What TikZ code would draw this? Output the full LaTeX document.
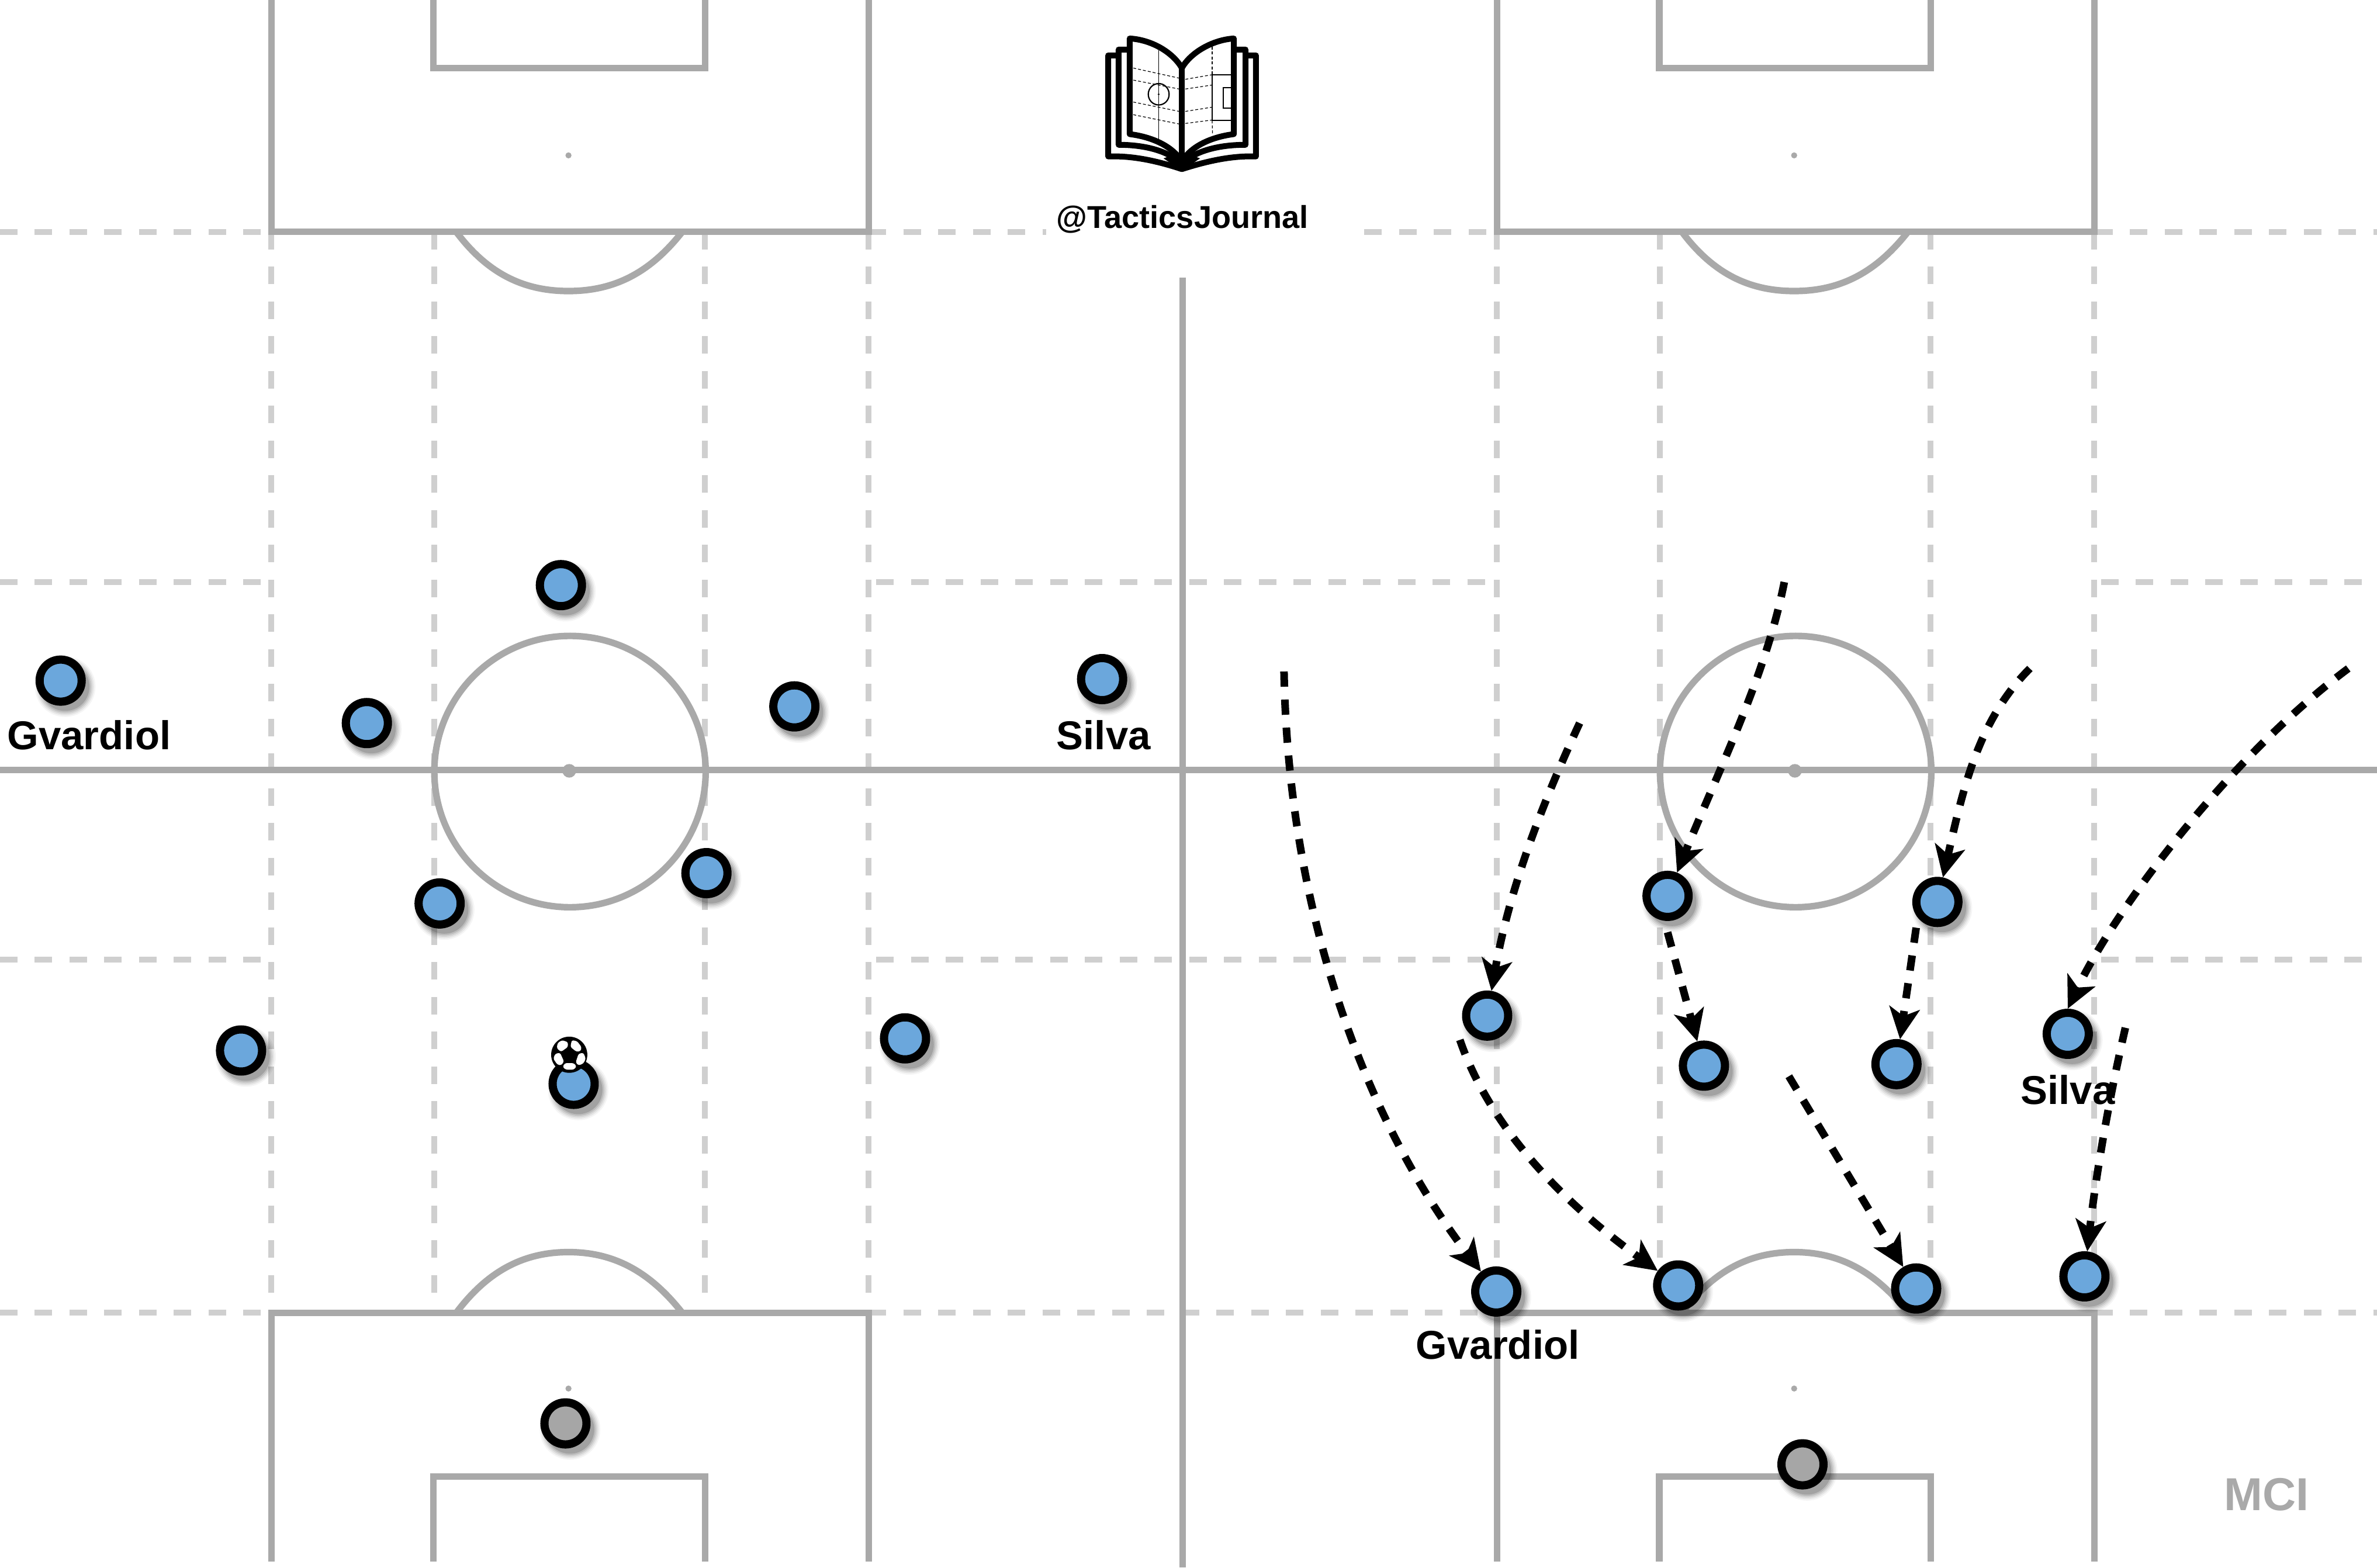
\documentclass[tikz,border=0pt]{standalone}
\usepackage{fontspec}
\setmainfont{Liberation Sans}
\usetikzlibrary{arrows.meta}
\definecolor{fieldgrey}{HTML}{A9A9A9}
\definecolor{dashgrey}{HTML}{CFCFCF}
\definecolor{playerblue}{HTML}{6BA7DC}
\definecolor{keepergrey}{HTML}{A6A6A6}
\tikzset{
  x=0.02594cm,y=-0.02594cm,
  solidline/.style={draw=fieldgrey,line width=1.12mm},
  dashline/.style={draw=dashgrey,line width=1mm,dash pattern=on 3mm off 2.95mm},
  spotdot/.style={fill=fieldgrey,draw=none},
  playerdisc/.style={circle,draw=black,line width=1.4mm,minimum size=7.2mm,inner sep=0pt,fill=playerblue},
  keeperdisc/.style={playerdisc,fill=keepergrey},
  namelabel/.style={font=\bfseries\fontsize{19.6}{22}\selectfont,text=black,inner sep=0pt,anchor=center},
  runarrow/.style={draw=black,line width=1.3mm,dash pattern=on 2.6mm off 2.2mm,-{Stealth[length=5.4mm,width=5.2mm,inset=1.4mm]}},
  bookline/.style={draw=black,line width=1mm,line join=round,line cap=round,fill=none},
  bookthin/.style={draw=black,line width=0.17mm,fill=none},
  bookdash/.style={draw=black,line width=0.12mm,dash pattern=on 0.5mm off 0.35mm},
}
\newcommand{\playershadow}[2]{%
  \foreach \r/\o in {20/0.04,19/0.06,18/0.08,17/0.10,16/0.14}{\fill[black,opacity=\o] (#1+3,#2+4) circle[radius=\r];}%
}
\newcommand{\player}[3]{\playershadow{#2}{#3}\node[playerdisc] (#1) at (#2,#3) {};}
\newcommand{\keeper}[3]{\playershadow{#2}{#3}\node[keeperdisc] (#1) at (#2,#3) {};}
\newcommand{\halfpitch}[1]{%
  \begin{scope}[xshift=#1*0.02594cm]
    \draw[dashline] (179,153) -- (179,866);
    \draw[dashline] (286.5,153) -- (286.5,866);
    \draw[dashline] (465,153) -- (465,866);
    \draw[dashline] (573,153) -- (573,866);
    \draw[solidline] (179,0) -- (179,153) -- (573,153) -- (573,0);
    \draw[solidline] (286,0) -- (286,45) -- (465,45) -- (465,0);
    \draw[solidline] (301,153) .. controls (322,181) and (346,192) .. (375,192) .. controls (404,192) and (428,181) .. (450,153);
    \fill[spotdot] (375,102.5) circle[radius=2];
    \draw[solidline] (179,1030) -- (179,866) -- (573,866) -- (573,1030);
    \draw[solidline] (286,1030) -- (286,974) -- (465,974) -- (465,1030);
    \draw[solidline] (301,866) .. controls (322,838) and (346,826) .. (375,826) .. controls (404,826) and (428,838) .. (450,866);
    \fill[spotdot] (375,916) circle[radius=2];
    \draw[solidline] (376,509) circle[radius=89.5];
    \fill[spotdot] (375.5,508.5) circle[radius=4.5];
  \end{scope}%
}
\begin{document}
\begin{tikzpicture}
\useasboundingbox (0,0) rectangle (1568,1034.4);
\fill[white] (0,0) rectangle (1568,1034.4);
% horizontal dashed lines
\draw[dashline] (0,153) -- (179,153);
\draw[dashline] (573,153) -- (690,153);
\draw[dashline] (900,153) -- (987,153);
\draw[dashline] (1382,153) -- (1568,153);
\foreach \yy in {384,633}{
  \draw[dashline] (0,\yy) -- (176,\yy);
  \draw[dashline] (578,\yy) -- (985,\yy);
  \draw[dashline] (1386,\yy) -- (1568,\yy);
}
\draw[dashline] (0,866) -- (179,866);
\draw[dashline] (573,866) -- (987,866);
\draw[dashline] (1382,866) -- (1568,866);
\halfpitch{0}
\halfpitch{808.5}
% halfway line and centre lines
\draw[solidline] (0,508) -- (1568,508);
\draw[solidline] (780,183) -- (780,1034);

% left players
\player{pa}{370}{386}
\player{pb}{40}{449}
\player{pc}{242}{477}
\player{pd}{524}{466}
\player{pe}{727}{448}
\player{pf}{466}{576}
\player{pg}{290}{596}
\player{ph}{159}{693}
\player{pi}{597}{685}
\player{pj}{378.4}{715}
\keeper{pk}{373}{939}
\node[namelabel] (gvl) at (58.8,485) {Gvardiol};
\node[namelabel] (sil) at (728,485) {Silva};

% ball
\begin{scope}[shift={(375.5,695.8)},x=0.003334cm,y=-0.003334cm]
\fill[black] (0,0) circle[radius=93];
\fill[white,rounded corners=0.3mm] (-37,-75) -- (-7,-65) -- (-7,-40) -- (-42,-15) -- (-64,-33) -- (-60,-60) -- cycle;
\fill[white,rounded corners=0.3mm] (13,-75) -- (40,-70) -- (63,-40) -- (60,-20) -- (38,-15) -- (6,-40) -- cycle;
\fill[white,rounded corners=0.3mm] (-72,-5) -- (-47,-10) -- (-27,35) -- (-42,55) -- (-62,50) -- (-82,20) -- cycle;
\fill[white,rounded corners=0.3mm] (73,-10) -- (85,20) -- (73,45) -- (48,55) -- (33,40) -- (48,-5) -- cycle;
\fill[white,rounded corners=0.3mm] (-22,43) -- (23,43) -- (38,60) -- (23,77) -- (-17,77) -- (-34,63) -- cycle;
\end{scope}

% right players
\player{qa}{981}{670}
\player{qb}{1100}{591}
\player{qc}{1278}{595}
\player{qd}{1124}{703}
\player{qe}{1251}{702}
\player{qf}{1364}{682}
\player{qg}{987}{852}
\player{qh}{1107}{848}
\player{qi}{1264}{850}
\player{qj}{1375}{842}
\keeper{qk}{1189}{966}
\node[namelabel] (gvr) at (988,887) {Gvardiol};
\node[namelabel] (sir) at (1364,719) {Silva};
\node[font=\bfseries\fontsize{22.5}{26}\selectfont,text=fieldgrey,inner sep=0pt] (mci) at (1495,986) {MCI};

% runs
\coordinate (ra) at (847,443);
\coordinate (rb) at (1042,477);
\coordinate (rc) at (1177,384);
\coordinate (rd) at (1339,441);
\coordinate (re) at (1549,441);
\coordinate (rf) at (1100,615);
\coordinate (rg) at (1264,612);
\coordinate (rh) at (963,686);
\coordinate (ri) at (1180,710);
\coordinate (rj) at (1402,678);
\draw[runarrow] (ra) .. controls (850,610) and (905,745) .. (qg);
\draw[runarrow] (rb) .. controls (1015,535) and (995,590) .. (qa);
\draw[runarrow] (rc) .. controls (1165,445) and (1135,505) .. (qb);
\draw[runarrow] (rd) .. controls (1305,475) and (1295,520) .. (qc);
\draw[runarrow] (re) .. controls (1470,500) and (1395,600) .. (qf.north);
\draw[runarrow] (rf) -- (qd);
\draw[runarrow] (rg) -- (qe);
\draw[runarrow] (rh) .. controls (985,750) and (1040,800) .. (qh);
\draw[runarrow] (ri) -- (qi);
\draw[runarrow] (rj) .. controls (1390,730) and (1382,780) .. (qj);

% book logo
\begin{scope}[shift={(674.6,0)},x=0.003571cm,y=-0.003333cm]
\draw[bookline] (450,285) -- (410,285) -- (410,805) .. controls (530,800) and (650,830) .. (763,870) .. controls (880,830) and (1000,800) .. (1118,805) -- (1118,285) -- (1075,285);
\draw[bookline] (505,255) -- (460,255) -- (460,745) .. controls (560,745) and (660,765) .. (730,815);
\draw[bookline] (795,815) .. controls (865,765) and (965,745) .. (1068,745) -- (1068,255) -- (1020,255);
\draw[bookline] (513,198) .. controls (620,205) and (720,270) .. (763,350) .. controls (805,270) and (910,205) .. (1012,198) -- (1012,690) .. controls (905,705) and (810,750) .. (763,830) .. controls (715,750) and (620,705) .. (513,690) -- cycle;
\draw[bookline] (763,350) -- (763,860);
\fill[black] (700,805) -- (763,820) -- (825,805) -- (850,815) -- (763,878) -- (675,815) -- cycle;
\draw[bookthin] (652,260) -- (652,715);
\draw[bookthin,line width=0.22mm] (652,485) ellipse[x radius=50,y radius=55];
\fill[black] (652,485) ellipse[x radius=5,y radius=5];
\draw[bookdash] (530,350) -- (750,402);
\draw[bookdash] (530,412) -- (750,458);
\draw[bookdash] (530,525) -- (750,573);
\draw[bookdash] (530,590) -- (750,638);
\draw[bookdash] (780,408) -- (905,385);
\draw[bookdash] (780,458) -- (905,438);
\draw[bookdash] (780,573) -- (905,552);
\draw[bookdash] (780,635) -- (905,618);
\draw[bookdash] (908,240) -- (908,385);
\draw[bookdash] (908,620) -- (910,690);
\draw[bookthin] (1000,385) -- (908,385) -- (908,620) -- (1000,620);
\draw[bookthin] (1000,450) -- (962,450) -- (962,557) -- (1000,557);
\end{scope}
\node[font=\bfseries\fontsize{15.4}{18}\selectfont,text=black,inner sep=0pt] (tag) at (780,144.5) {@TacticsJournal};
\end{tikzpicture}
\end{document}
